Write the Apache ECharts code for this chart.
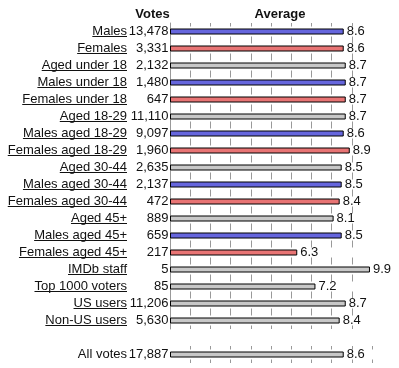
<!DOCTYPE html>
<html>
<head>
<meta charset="utf-8">
<script src="https://cdn.jsdelivr.net/npm/echarts@6/dist/echarts.min.js"></script>
<style>
html,body{margin:0;padding:0;background:#fff;}
#chart{width:399px;height:368px;}
</style>
</head>
<body>
<div id="chart"></div>
<script>
const categories = ['Males','Females','Aged under 18','Males under 18','Females under 18','Aged 18-29','Males aged 18-29','Females aged 18-29','Aged 30-44','Males aged 30-44','Females aged 30-44','Aged 45+','Males aged 45+','Females aged 45+','IMDb staff','Top 1000 voters','US users','Non-US users'];
const votes = [13478,3331,2132,1480,647,11110,9097,1960,2635,2137,472,889,659,217,5,85,11206,5630];
const averages = [8.6,8.6,8.7,8.7,8.7,8.7,8.6,8.9,8.5,8.5,8.4,8.1,8.5,6.3,9.9,7.2,8.7,8.4];
const groups = ['male','female','all','male','female','all','male','female','all','male','female','all','male','female','all','all','all','all'];
const totalCategory = ['All votes'];
const totalVotes = [17887];
const totalAverage = [8.6];
const headers = ['Votes','Average'];

const COLORS = {male:'#6666dd', female:'#e87474', all:'#c8c8c8'};
const FONT_FAMILY = '"Liberation Sans", Arial, sans-serif';
const FONT = '13px ' + FONT_FAMILY;
const TXT = '#111';

const measureCtx = document.createElement('canvas').getContext('2d');
measureCtx.font = FONT;
function textWidth(t){ return measureCtx.measureText(t).width; }
function fmt(n){ return n.toLocaleString('en-US'); }

function makeLabelRenderer(names, vals, underline){
  return function(params, api){
    const i = params.dataIndex;
    const p = api.coord([0, api.value(1)]);
    const nameRight = p[0] - 43;
    const children = [
      {type:'text', style:{x:nameRight, y:p[1], text:names[i], align:'right', verticalAlign:'middle', font:FONT, fill:TXT}},
      {type:'text', style:{x:p[0]-1.5, y:p[1], text:fmt(vals[i]), align:'right', verticalAlign:'middle', font:FONT, fill:TXT}}
    ];
    if (underline) {
      const w = textWidth(names[i]);
      children.push({type:'line', shape:{x1:nameRight - w, y1:p[1]+5, x2:nameRight, y2:p[1]+5}, style:{stroke:TXT, lineWidth:1}});
    }
    return {type:'group', children:children};
  };
}

const splitStyle = {color:'#999', width:1, type:[7,10], dashOffset:3.5};

const chart = echarts.init(document.getElementById('chart'), null, {renderer:'canvas'});
chart.setOption({
  backgroundColor:'#fff',
  animation:false,
  graphic:[
    {type:'text', left:null, x:152.5, y:14, style:{text:headers[0], font:'bold 13px ' + FONT_FAMILY, fill:TXT, align:'center', verticalAlign:'middle'}},
    {type:'text', x:280, y:14, style:{text:headers[1], font:'bold 13px ' + FONT_FAMILY, fill:TXT, align:'center', verticalAlign:'middle'}}
  ],
  grid:[
    {left:170, width:202, top:23, height:306},
    {left:170, width:202, top:346, height:17}
  ],
  xAxis:[
    {gridIndex:0, type:'value', min:0, max:10, interval:1, axisLabel:{show:false}, axisLine:{show:false}, axisTick:{show:false},
     splitLine:{show:true, showMinLine:false, showMaxLine:false, lineStyle:splitStyle}},
    {gridIndex:1, type:'value', min:0, max:10, interval:1, axisLabel:{show:false}, axisLine:{show:false}, axisTick:{show:false},
     splitLine:{show:true, showMinLine:false, showMaxLine:true, lineStyle:splitStyle}}
  ],
  yAxis:[
    {gridIndex:0, type:'category', data:categories, inverse:true, position:'right',
     axisLine:{show:true, lineStyle:{color:'#999', width:1}}, axisTick:{show:false}, axisLabel:{show:false}, splitLine:{show:false}},
    {gridIndex:1, type:'category', data:totalCategory, inverse:true,
     axisLine:{show:false}, axisTick:{show:false}, axisLabel:{show:false}, splitLine:{show:false}}
  ],
  series:[
    {type:'bar', xAxisIndex:0, yAxisIndex:0, barWidth:6,
     data:averages.map((v,i)=>({value:v, itemStyle:{color:COLORS[groups[i]], borderColor:'#000', borderWidth:1}})),
     label:{show:true, position:'right', distance:3, color:TXT, fontFamily:FONT_FAMILY, fontSize:13, formatter:(p)=>p.value.toFixed(1)}},
    {type:'bar', xAxisIndex:1, yAxisIndex:1, barWidth:6,
     data:totalAverage.map(v=>({value:v, itemStyle:{color:COLORS.all, borderColor:'#000', borderWidth:1}})),
     label:{show:true, position:'right', distance:3, color:TXT, fontFamily:FONT_FAMILY, fontSize:13, formatter:(p)=>p.value.toFixed(1)}},
    {type:'custom', xAxisIndex:0, yAxisIndex:0, silent:true, clip:false,
     data:categories.map((c,i)=>[0, c]), encode:{x:0, y:1},
     renderItem:makeLabelRenderer(categories, votes, true)},
    {type:'custom', xAxisIndex:1, yAxisIndex:1, silent:true, clip:false,
     data:totalCategory.map(c=>[0, c]), encode:{x:0, y:1},
     renderItem:makeLabelRenderer(totalCategory, totalVotes, false)}
  ]
});
</script>
</body>
</html>
